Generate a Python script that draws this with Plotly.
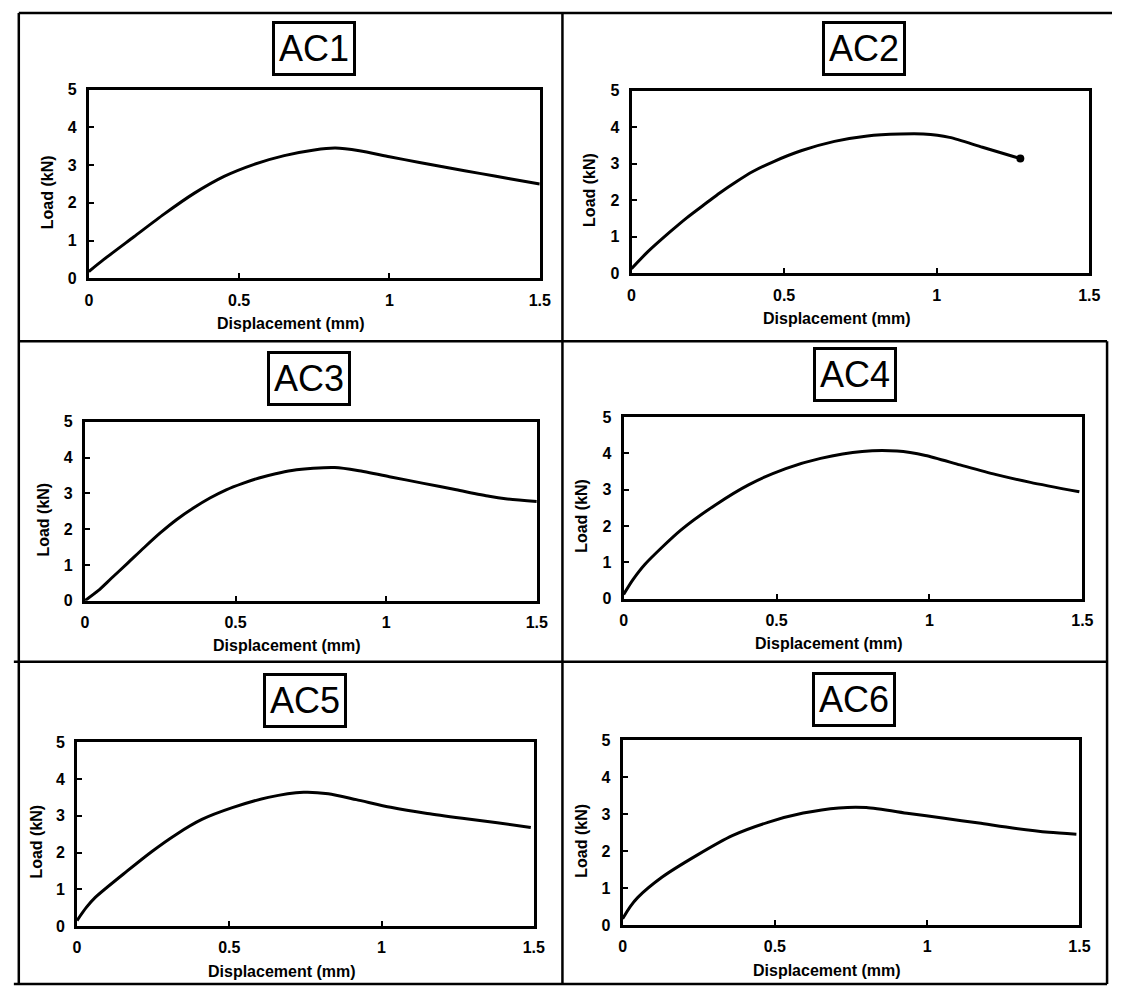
import plotly.graph_objects as go

W, H = 1123, 996

# ---------------- data ----------------
titles = ["AC1", "AC2", "AC3", "AC4", "AC5", "AC6"]

ac1_x = [0, 0.05, 0.15, 0.25, 0.35, 0.45, 0.55, 0.65, 0.75, 0.82, 0.9, 1.0, 1.1, 1.2, 1.3, 1.4, 1.5]
ac1_y = [0.18, 0.5, 1.1, 1.7, 2.25, 2.7, 3.02, 3.25, 3.4, 3.45, 3.38, 3.22, 3.07, 2.92, 2.78, 2.64, 2.5]

ac2_x = [0, 0.052, 0.127, 0.181, 0.246, 0.289, 0.342, 0.396, 0.466, 0.558, 0.665, 0.773, 0.881, 0.956, 1.042, 1.15, 1.274]
ac2_y = [0.13, 0.58, 1.14, 1.52, 1.93, 2.2, 2.5, 2.78, 3.06, 3.36, 3.61, 3.76, 3.81, 3.81, 3.72, 3.45, 3.14]

ac3_x = [0, 0.044, 0.087, 0.142, 0.196, 0.251, 0.305, 0.36, 0.415, 0.469, 0.524, 0.578, 0.633, 0.687, 0.758, 0.829, 0.905, 1.015, 1.124, 1.233, 1.342, 1.396, 1.5]
ac3_y = [0.0, 0.28, 0.62, 1.05, 1.48, 1.9, 2.27, 2.59, 2.87, 3.1, 3.28, 3.43, 3.55, 3.64, 3.7, 3.72, 3.64, 3.46, 3.28, 3.1, 2.92, 2.85, 2.77]

ac4_x = [0, 0.03, 0.07, 0.186, 0.30, 0.41, 0.53, 0.644, 0.78, 0.894, 0.987, 1.10, 1.215, 1.33, 1.49]
ac4_y = [0.12, 0.52, 0.95, 1.88, 2.58, 3.14, 3.58, 3.86, 4.05, 4.06, 3.94, 3.68, 3.42, 3.2, 2.94]

ac5_x = [0, 0.03, 0.06, 0.165, 0.246, 0.327, 0.41, 0.51, 0.628, 0.744, 0.825, 0.917, 1.03, 1.15, 1.265, 1.38, 1.49]
ac5_y = [0.15, 0.5, 0.78, 1.5, 2.03, 2.5, 2.9, 3.22, 3.5, 3.64, 3.6, 3.44, 3.23, 3.06, 2.93, 2.81, 2.68]

ac6_x = [0, 0.025, 0.05, 0.13, 0.246, 0.36, 0.477, 0.593, 0.71, 0.80, 0.94, 1.056, 1.17, 1.286, 1.40, 1.49]
ac6_y = [0.17, 0.5, 0.75, 1.3, 1.9, 2.42, 2.78, 3.03, 3.17, 3.18, 3.02, 2.89, 2.76, 2.62, 2.51, 2.46]

x_tick_vals = [0, 0.5, 1, 1.5]
x_tick_text = ["0", "0.5", "1", "1.5"]
y_tick_vals = [0, 1, 2, 3, 4, 5]
y_tick_text = ["0", "1", "2", "3", "4", "5"]
x_title = "Displacement (mm)"
y_title = "Load (kN)"

series_x = [ac1_x, ac2_x, ac3_x, ac4_x, ac5_x, ac6_x]
series_y = [ac1_y, ac2_y, ac3_y, ac4_y, ac5_y, ac6_y]

# ---------------- layout geometry (pixels) ----------------
# left, right, top, bottom of each plot box
panels = [
    (86, 543, 83, 275),
    (636, 1100, 84, 270),
    (82, 540, 421, 603),
    (628, 1093, 416, 601),
    (74, 537, 747, 934),
    (627, 1090, 745, 933),
]
title_centers = [(314, 41), (872, 41), (309, 377), (863, 373), (305, 705), (862, 703)]

FONT = "Liberation Sans, Arial, Helvetica, sans-serif"


def px(x):
    return x / W


def py(y):
    return 1 - y / H


fig = go.Figure()
annotations = []
shapes = []

for i in range(6):
    l, r, t, b = panels[i]
    xa = "x" if i == 0 else f"x{i+1}"
    ya = "y" if i == 0 else f"y{i+1}"
    fig.add_trace(go.Scatter(
        x=series_x[i], y=series_y[i], mode="lines",
        line=dict(color="black", width=3, shape="spline", smoothing=0.7),
        xaxis=xa, yaxis=ya, showlegend=False, hoverinfo="skip",
    ))
    axis_common = dict(
        showline=True, linecolor="black", linewidth=3, mirror=True,
        ticks="inside", ticklen=5, tickwidth=2, tickcolor="black",
        showgrid=False, zeroline=False, fixedrange=True,
        tickfont=dict(family=FONT, size=16, color="black", weight="bold"),
    )
    fig.layout[f"xaxis{'' if i == 0 else i+1}"] = dict(
        axis_common, domain=[px(l), px(r)], anchor=ya, range=[0, 1.5],
        tickvals=x_tick_vals, ticktext=x_tick_text, ticklabelstandoff=5,
    )
    fig.layout[f"yaxis{'' if i == 0 else i+1}"] = dict(
        axis_common, domain=[py(b), py(t)], anchor=xa, range=[0, 5],
        tickvals=y_tick_vals, ticktext=y_tick_text, ticklabelstandoff=6,
    )
    # axis titles
    annotations.append(dict(
        text=x_title, x=px((l + r) / 2 - 24), y=py(b + 46), xref="paper", yref="paper",
        showarrow=False, xanchor="center", yanchor="middle",
        font=dict(family=FONT, size=16, color="black", weight="bold"),
    ))
    annotations.append(dict(
        text=y_title, x=px(l - 42), y=py((t + b) / 2 + 8), xref="paper", yref="paper",
        showarrow=False, xanchor="center", yanchor="middle", textangle=-90,
        font=dict(family=FONT, size=16, color="black", weight="bold"),
    ))
    # boxed panel title
    cx, cy = title_centers[i]
    annotations.append(dict(
        text=titles[i], x=px(cx), y=py(cy), xref="paper", yref="paper",
        showarrow=False, xanchor="center", yanchor="middle",
        font=dict(family=FONT, size=36, color="black"),
        bordercolor="black", borderwidth=3, borderpad=4, bgcolor="white",
    ))

# end blob on AC2 curve
fig.add_trace(go.Scatter(
    x=[ac2_x[-1]], y=[ac2_y[-1]], mode="markers",
    marker=dict(color="black", size=8), xaxis="x2", yaxis="y2",
    showlegend=False, hoverinfo="skip",
))

# page frame lines (pixels)
frame = [
    (15, 5, 1123, 5),      # top
    (15, 5, 15, 993),      # left
    (566, 5, 566, 993),    # middle
    (15, 339, 1118, 339),  # row 1 / row 2
    (10, 665, 1118, 665),  # row 2 / row 3
    (10, 993, 1118, 993),  # bottom
    (1118, 339, 1118, 993),  # right (rows 2-3)
]
for x0, y0, x1, y1 in frame:
    shapes.append(dict(type="line", xref="paper", yref="paper",
                       x0=px(x0), y0=py(y0), x1=px(x1), y1=py(y1),
                       line=dict(color="black", width=2.5)))

fig.update_layout(
    width=W, height=H, margin=dict(l=0, r=0, t=0, b=0),
    paper_bgcolor="white", plot_bgcolor="white",
    annotations=annotations, shapes=shapes,
    font=dict(family=FONT, color="black"),
)

fig.write_html("out.html", config={"displayModeBar": False},
               post_script="document.body.style.margin='0';document.body.style.overflow='hidden';")
